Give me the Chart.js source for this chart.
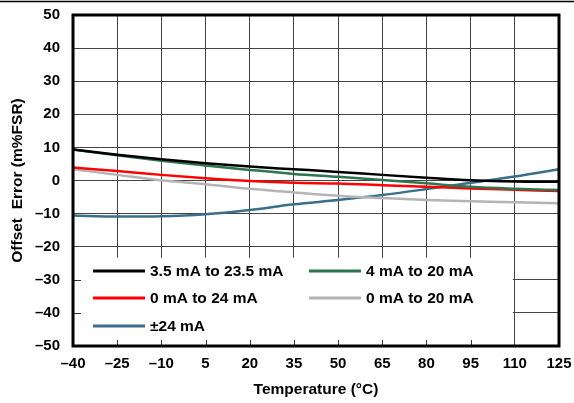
<!DOCTYPE html>
<html>
<head>
<meta charset="utf-8">
<script src="https://cdn.jsdelivr.net/npm/chart.js@4/dist/chart.umd.min.js"></script>
<style>
  html, body { margin: 0; padding: 0; background: #fff; }
  #wrap { width: 574px; height: 403px; position: relative; }
</style>
</head>
<body>
<div id="wrap"><canvas id="c"></canvas></div>
<script>
// temperatures (°C) where the curves are read
const temps = [-40, -25, -10, 5, 20, 35, 50, 65, 80, 95, 110, 125];
const xTicks = [-40, -25, -10, 5, 20, 35, 50, 65, 80, 95, 110, 125];

// offset error, m%FSR
const range35to235 = [9.4, 7.8, 6.4, 5.2, 4.2, 3.4, 2.6, 1.7, 0.85, 0.1, -0.3, -0.4];
const range4to20 = [9.4, 7.6, 6.0, 4.5, 3.2, 2.0, 1.1, 0.15, -0.85, -1.9, -2.5, -2.9];
const range0to24 = [3.9, 2.9, 1.7, 0.7, -0.15, -0.7, -0.9, -1.4, -1.9, -2.4, -2.8, -3.2];
const range0to20 = [3.4, 1.7, 0.05, -1.1, -2.5, -3.6, -4.6, -5.3, -5.9, -6.3, -6.6, -6.9];
const rangePm24 = [-10.6, -10.9, -10.8, -10.2, -8.9, -7.2, -5.9, -4.4, -2.6, -0.7, 1.2, 3.4];

const series = [
  { label: '3.5 mA to 23.5 mA', values: range35to235, color: '#000000' },
  { label: '4 mA to 20 mA', values: range4to20, color: '#2e7451' },
  { label: '0 mA to 24 mA', values: range0to24, color: '#ff0000' },
  { label: '0 mA to 20 mA', values: range0to20, color: '#b4b4b4' },
  { label: '\u00b124 mA', values: rangePm24, color: '#3a6e89' }
];

const family = '"Liberation Sans", Arial, sans-serif';
const tickFont = { family, size: 15, weight: 'bold' };
const titleFont = { family, size: 15.5, weight: 'bold' };
const dash = v => (v < 0 ? '\u2013' + Math.abs(v) : String(v));

// white legend panel inside the plot, plus frame and inner tick marks
const frame = {
  id: 'frame',
  beforeDraw(chart) {
    const ctx = chart.ctx;
    ctx.save();
    ctx.strokeStyle = '#000';
    ctx.lineWidth = 1.5;
    ctx.beginPath();
    ctx.moveTo(0, 1.5);
    ctx.lineTo(chart.width, 1.5);
    ctx.stroke();
    ctx.restore();
  },
  beforeDatasetsDraw(chart) {
    const { ctx, chartArea: a, scales } = chart;
    const boxRight = scales.x.getPixelForValue(110) - 2;
    const boxTop = scales.y.getPixelForValue(-20) + 11;
    ctx.save();
    ctx.fillStyle = '#fff';
    ctx.fillRect(a.left, boxTop, boxRight - a.left, a.bottom - boxTop);
    ctx.strokeStyle = '#333';
    ctx.lineWidth = 1;
    ctx.beginPath();
    xTicks.forEach(t => {
      const px = Math.round(scales.x.getPixelForValue(t)) + 0.5;
      if (px < boxRight) {
        ctx.moveTo(px, a.bottom);
        ctx.lineTo(px, a.bottom - 6);
      }
    });
    [-30, -40].forEach(v => {
      const py = Math.round(scales.y.getPixelForValue(v)) + 0.5;
      ctx.moveTo(a.left, py);
      ctx.lineTo(a.left + 8, py);
    });
    ctx.stroke();

    // legend entries, two columns
    const cols = [a.left + 20, a.left + 236];
    const rows = [a.top + 256, a.top + 283, a.top + 311];
    const place = [[0, 0], [1, 0], [0, 1], [1, 1], [0, 2]];
    ctx.font = 'bold 15.5px ' + family;
    ctx.textBaseline = 'middle';
    series.forEach((s, i) => {
      const x = cols[place[i][0]];
      const y = rows[place[i][1]];
      ctx.strokeStyle = s.color;
      ctx.lineWidth = 3;
      ctx.beginPath();
      ctx.moveTo(x, y);
      ctx.lineTo(x + 52, y);
      ctx.stroke();
      ctx.fillStyle = '#000';
      ctx.fillText(s.label, x + 57, y + 1);
    });
    ctx.restore();
  },
  afterDraw(chart) {
    const { ctx, chartArea: a } = chart;
    ctx.save();
    ctx.strokeStyle = '#000';
    ctx.lineWidth = 3;
    ctx.strokeRect(a.left, a.top, a.right - a.left, a.bottom - a.top);
    ctx.restore();
  }
};

new Chart(document.getElementById('c'), {
  type: 'line',
  data: {
    datasets: series.map(s => ({
      label: s.label,
      data: temps.map((t, i) => ({ x: t, y: s.values[i] })),
      borderColor: s.color,
      backgroundColor: s.color,
      borderWidth: 2.5,
      pointRadius: 0,
      tension: 0.4,
      cubicInterpolationMode: 'monotone'
    }))
  },
  options: {
    responsive: true,
    maintainAspectRatio: false,
    animation: false,
    layout: { padding: { left: 0, top: 15, right: 15, bottom: 0 } },
    plugins: { legend: { display: false }, tooltip: { enabled: false } },
    scales: {
      x: {
        type: 'linear',
        min: -40,
        max: 125,
        afterBuildTicks: scale => { scale.ticks = xTicks.map(v => ({ value: v })); },
        afterFit: scale => {
          scale.height = 57;
          scale.paddingLeft = 0;
          scale.paddingRight = 0;
        },
        grid: { color: '#444', lineWidth: 1, drawTicks: false },
        border: { display: false },
        ticks: { color: '#000', font: tickFont, padding: 9, callback: dash, maxRotation: 0 },
        title: { display: true, text: 'Temperature (\u00b0C)', color: '#000', font: titleFont, padding: { top: 7 } }
      },
      y: {
        min: -50,
        max: 50,
        afterFit: scale => {
          scale.width = 73;
          scale.paddingTop = 0;
          scale.paddingBottom = 0;
        },
        grid: { color: '#444', lineWidth: 1, drawTicks: false },
        border: { display: false },
        ticks: { stepSize: 10, color: '#000', font: tickFont, padding: 13, callback: dash },
        title: { display: true, text: 'Offset  Error (m%FSR)', color: '#000', font: titleFont, padding: { top: 8, bottom: 2 } }
      }
    }
  },
  plugins: [frame]
});
</script>
</body>
</html>
